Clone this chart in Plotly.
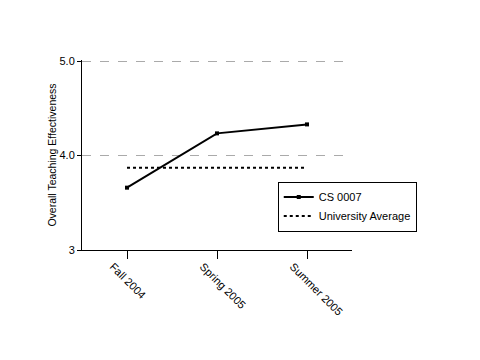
import plotly.graph_objects as go

terms = ["Fall 2004", "Spring 2005", "Summer 2005"]
cs0007 = [3.66, 4.235, 4.33]
univ_avg = [3.87, 3.87, 3.87]
ytick_vals = [3, 4, 5]
ytick_text = ["3", "4.0", "5.0"]

font = dict(family="Liberation Sans, Arial, sans-serif", size=11, color="black")

fig = go.Figure()
fig.add_trace(go.Scatter(x=terms, y=cs0007, name="CS 0007", mode="lines+markers",
                         line=dict(color="black", width=2),
                         marker=dict(symbol="square", size=4, color="black")))
fig.add_trace(go.Scatter(x=terms, y=univ_avg, name="University Average", mode="lines",
                         line=dict(color="black", width=2, dash="dot")))

fig.update_layout(
    width=480, height=360,
    margin=dict(l=74, r=136, t=52, b=118, autoexpand=False),
    paper_bgcolor="white", plot_bgcolor="white",
    font=font,
    showlegend=True,
    legend=dict(x=0.725, y=0.36, xanchor="left", yanchor="top",
                bordercolor="black", borderwidth=1, bgcolor="white",
                font=dict(size=11), tracegroupgap=0, itemwidth=30),
    xaxis=dict(type="category", range=[-0.5, 2.5], showline=True, linecolor="black",
               linewidth=1, ticks="outside", ticklen=8, tickcolor="black",
               tickangle=45, ticklabelshift=-14, ticklabelstandoff=-3,
               showgrid=False, zeroline=False, automargin=False),
    yaxis=dict(range=[3, 5.012], tickvals=ytick_vals, ticktext=ytick_text,
               showline=True, linecolor="black", linewidth=1, ticks="outside",
               ticklen=4, tickcolor="black", showgrid=True, gridcolor="#aaaaaa",
               griddash="dash", gridwidth=1, zeroline=False, automargin=False,
               title=dict(text="Overall Teaching Effectiveness", standoff=0,
                          font=dict(size=10.5))),
)
fig.write_html("out.html")
